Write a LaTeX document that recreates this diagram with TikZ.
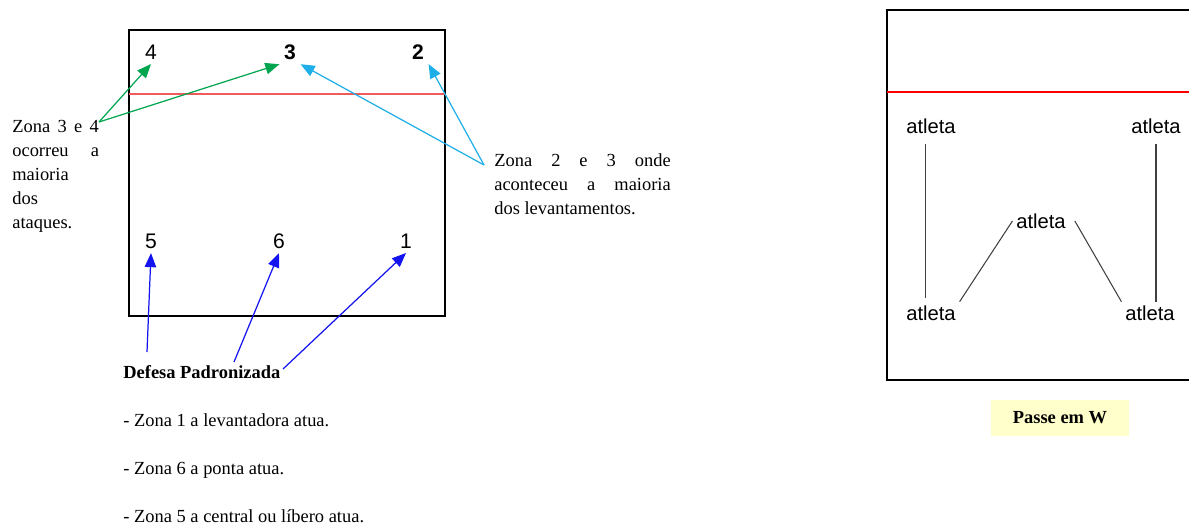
\documentclass[tikz,border=0pt]{standalone}
\usepackage{fontspec}
\setmainfont{Liberation Serif}
\setsansfont{Liberation Sans}
\usetikzlibrary{arrows.meta}

\definecolor{verde}{RGB}{0,165,80}
\definecolor{ciano}{RGB}{30,175,232}
\definecolor{azul}{RGB}{20,20,240}
\definecolor{vermelhoclaro}{RGB}{240,90,90}
\definecolor{amarelo}{RGB}{255,255,204}

\tikzset{
  num/.style={font=\sffamily\fontsize{12}{14}\selectfont, inner sep=2.5pt},
  atleta/.style={font=\sffamily\fontsize{11.5}{14}\selectfont, inner sep=2pt},
  texto/.style={font=\fontsize{10.5}{13.6}\selectfont, inner sep=0pt, anchor=base west},
  seta/.style={-{Triangle[length=8pt,width=6.5pt]}, line width=0.7pt},
  liga/.style={black!75, line width=0.6pt},
}

\begin{document}
\begin{tikzpicture}[x=0.02cm, y=-0.02cm]
\useasboundingbox (0,0) rectangle (1189,524);

% quadra com as zonas
\draw[line width=0.8pt] (129,30) rectangle (445,316);
\draw[vermelhoclaro, line width=0.8pt] (129,94) -- (445,94);

\node[num] (z4) at (151,52) {4};
\node[num] (z3) at (290,52) {\bfseries 3};
\node[num] (z2) at (418,52) {\bfseries 2};
\node[num] (z5) at (151,241) {5};
\node[num] (z6) at (279,241) {6};
\node[num] (z1) at (406,241) {1};

% textos (base = ultima linha)
\node[texto, align=left] (zona34) at (12,228) {\makebox[49.3pt][s]{Zona 3 e 4}\\ \makebox[49.3pt][s]{ocorreu a}\\ maioria\\ dos\\ ataques.};
\node[texto, align=left] (zona23) at (494,214) {\makebox[100.4pt][s]{Zona 2 e 3 onde}\\ \makebox[100.4pt][s]{aconteceu a maioria}\\ dos levantamentos.};

\node[texto] (defesa) at (123,378) {\bfseries Defesa Padronizada};
\node[texto] (linha1) at (123,426) {- Zona 1 a levantadora atua.};
\node[texto] (linha6) at (123,474) {- Zona 6 a ponta atua.};
\node[texto] (linha5) at (123,522) {- Zona 5 a central ou líbero atua.};

% setas
\coordinate (g0) at (99,122);
\coordinate (c0) at (484,165);
\coordinate (b5) at (147,352);
\coordinate (b6) at (234,362);
\coordinate (b1) at (283,369);

\draw[seta, verde] (g0) -- (z4.south);
\draw[seta, verde] (g0) -- (z3.south west);
\draw[seta, ciano] (c0) -- (z3.south east);
\draw[seta, ciano] (c0) -- (z2.south east);
\draw[seta, azul] (b5) -- (z5.south);
\draw[seta, azul] (b6) -- (z6.south);
\draw[seta, azul] (b1) -- (z1.south);

% passe em W
\draw[line width=0.8pt] (1189,10) -- (887,10) -- (887,380) -- (1189,380);
\draw[red, line width=0.7pt] (887,92) -- (1189,92);

\node[atleta] (a1) at (931,126) {atleta};
\node[atleta] (a2) at (1156,126) {atleta};
\node[atleta] (a3) at (1041,221) {atleta};
\node[atleta] (a4) at (931,313) {atleta};
\node[atleta] (a5) at (1150,313) {atleta};

\draw[liga, shorten <=4pt, shorten >=2pt] ([xshift=-3.4pt]a1.south) -- ([xshift=-3.4pt]a4.north);
\draw[liga, shorten <=4pt] (a2.south) -- (a2.south |- a5.north);
\draw[liga] (a4.north east) -- (a3.west);
\draw[liga] ([xshift=3pt]a3.east) -- (a5.north west);

\node[fill=amarelo, minimum width=78pt, minimum height=21pt, font=\bfseries\fontsize{10.5}{12}\selectfont] (passe) at (1060,418) {Passe em W};
\end{tikzpicture}
\end{document}
